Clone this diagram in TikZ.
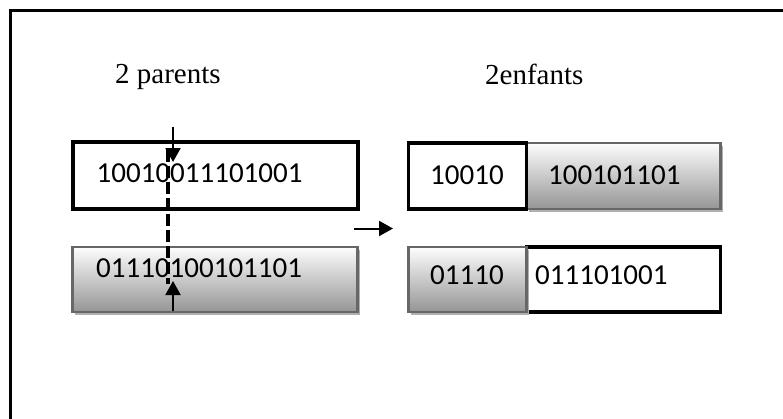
\documentclass[tikz,border=0pt]{standalone}
\usepackage{fontspec}
\setmainfont{Liberation Serif}
\newfontfamily\bitsfont{Carlito}
\usetikzlibrary{arrows.meta,shadows}

\definecolor{boxedge}{HTML}{676767}
\definecolor{shadowgray}{HTML}{B0B0B0}
\definecolor{gradtop}{HTML}{FDFDFD}
\definecolor{gradbot}{HTML}{959595}

\tikzset{
  plainbox/.style={draw=black, line width=3.4pt, fill=white, inner sep=0pt},
  shadebox/.style={draw=boxedge, line width=2.8pt, inner sep=0pt,
    top color=gradtop, bottom color=gradbot,
    drop shadow={shadow xshift=2.5pt, shadow yshift=-3pt, fill=shadowgray, opacity=1}},
  bits/.style={font=\bitsfont\fontsize{29}{32}\selectfont, inner sep=0pt, anchor=west},
  title/.style={font=\fontsize{29}{34}\selectfont, inner sep=0pt, anchor=base west},
  pointer/.style={line width=2pt, -{Triangle[length=14pt,width=15pt]}},
  cutline/.style={line width=3.6pt, dash pattern=on 12pt off 4pt}
}

\begin{document}
\begin{tikzpicture}[x=1pt,y=-1pt]
  \useasboundingbox (0,0) rectangle (783,418);
  \fill[white] (0,0) rectangle (783,418);

  % outer frame (runs past the right and bottom edges)
  \draw[line width=3.5pt] (10.7,430) -- (10.7,10.7) -- (800,10.7);

  % titles
  \node[title] (tparents) at (115,83) {2 parents};
  \node[title] (tenfants) at (485,84) {2enfants};

  % parent chromosomes
  \node[plainbox, minimum width=285pt, minimum height=67pt] (p1) at (215.5,175.5) {};
  \node[shadebox, minimum width=285pt, minimum height=65pt] (p2) at (215,279.5) {};
  \node[bits] (b1) at (96.5,173) {10010011101001};
  \node[bits] (b2) at (96,268) {01110100101101};

  % crossover point
  \coordinate (cuttop) at (168,150);
  \coordinate (cutbot) at (168,284);
  \draw[cutline] (cuttop) -- (cutbot);
  \coordinate (a1s) at (173,127);
  \coordinate (a1e) at (173,162);
  \coordinate (a2s) at (173,311);
  \coordinate (a2e) at (173,281);
  \draw[pointer] (a1s) -- (a1e);
  \draw[pointer] (a2s) -- (a2e);

  % transition arrow
  \coordinate (ms) at (354,228.5);
  \coordinate (me) at (393,228.5);
  \draw[pointer] (ms) -- (me);

  % children chromosomes
  \node[shadebox, minimum width=194pt, minimum height=66pt] (c1r) at (623.5,176) {};
  \node[plainbox, minimum width=118pt, minimum height=66pt] (c1l) at (467.5,176) {};
  \node[plainbox, minimum width=194pt, minimum height=65pt] (c2r) at (623.5,279.5) {};
  \node[shadebox, minimum width=118pt, minimum height=65pt] (c2l) at (467.5,279.5) {};

  \node[bits] (c1a) at (430,175) {10010};
  \node[bits] (c1b) at (548,175) {100101101};
  \node[bits] (c2a) at (430,275) {01110};
  \node[bits] (c2b) at (535,275) {011101001};
\end{tikzpicture}
\end{document}
